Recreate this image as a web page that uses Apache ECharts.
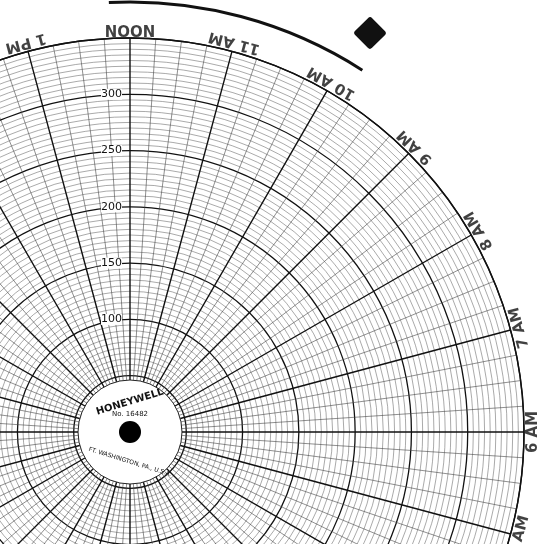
<!DOCTYPE html><html><head><meta charset="utf-8">
<script src="https://cdn.jsdelivr.net/npm/echarts@6/dist/echarts.min.js"></script>
<style>html,body{margin:0;background:#fff}#c{width:541px;height:544px}</style></head><body><div id="c"></div>
<script>
const hourLabels=['NOON','1 PM','2 PM','3 PM','4 PM','5 PM','6 PM','7 PM','8 PM','9 PM','10 PM','11 PM','MIDNIGHT','1 AM','2 AM','3 AM','4 AM','5 AM','6 AM','7 AM','8 AM','9 AM','10 AM','11 AM'];
const radialTicks=[100,150,200,250,300];
const cx=130, cy=432, R=394;
const labelData=hourLabels.map((t,h)=>({value:[358,h],name:t,label:{rotate:(h*15+180)%360}}));
const chart=echarts.init(document.getElementById('c'));
chart.setOption({
 backgroundColor:'#fff',animation:false,
 polar:{center:[cx,cy],radius:[0,R]},
 angleAxis:{type:'value',min:0,max:24,interval:1,startAngle:90,clockwise:false,
  axisLine:{show:true,lineStyle:{color:'#111',width:1.5}},axisTick:{show:false},
  axisLabel:{show:false},
  splitLine:{show:true,lineStyle:{color:'#111',width:1.4}},
  minorTick:{show:false,splitNumber:4},
  minorSplitLine:{show:true,lineStyle:{color:'#444',width:0.6}}},
 radiusAxis:{type:'value',min:0,max:350,interval:50,
  axisLine:{show:false},axisTick:{show:false},
  axisLabel:{color:'#111',fontSize:11,fontFamily:'DejaVu Sans',backgroundColor:'#fff',formatter:v=>radialTicks.includes(v)?v:''},
  splitLine:{show:true,lineStyle:{color:'#111',width:1.3}},
  minorTick:{show:false,splitNumber:10},
  minorSplitLine:{show:true,lineStyle:{color:'#555',width:0.5}}},
 series:[{type:'scatter',coordinateSystem:'polar',data:labelData,symbolSize:0,clip:false,
  label:{show:true,position:'inside',formatter:p=>p.name,color:'#111',fontSize:15,fontFamily:'DejaVu Sans',fontWeight:'bold'}}],
 graphic:[
  {type:'circle',z:100,shape:{cx:cx,cy:cy,r:52},style:{fill:'#fff',stroke:'#222',lineWidth:1}},
  {type:'circle',z:101,shape:{cx:cx,cy:cy,r:11},style:{fill:'#000'}},
  {type:'text',z:101,x:cx,y:cy-30,style:{text:'HONEYWELL',fill:'#111',font:'bold 10px DejaVu Sans',align:'center',verticalAlign:'middle'},rotation:0.3},
  {type:'text',z:101,x:cx,y:cy-18,style:{text:'No. 16482',fill:'#111',font:'7px DejaVu Sans',align:'center',verticalAlign:'middle'}},
  {type:'text',z:101,x:cx,y:cy+30,style:{text:'FT. WASHINGTON, PA., U.S.A.',fill:'#111',font:'6px DejaVu Sans',align:'center',verticalAlign:'middle'},rotation:-0.3},
  {type:'arc',shape:{cx:cx,cy:cy,r:430,startAngle:-1.62,endAngle:-1.0},style:{stroke:'#111',lineWidth:3,fill:null}},
  {type:'rect',x:370,y:33,rotation:0.78,shape:{x:-12,y:-12,width:24,height:24,r:3},style:{fill:'#111'}}
 ]
});
</script></body></html>
